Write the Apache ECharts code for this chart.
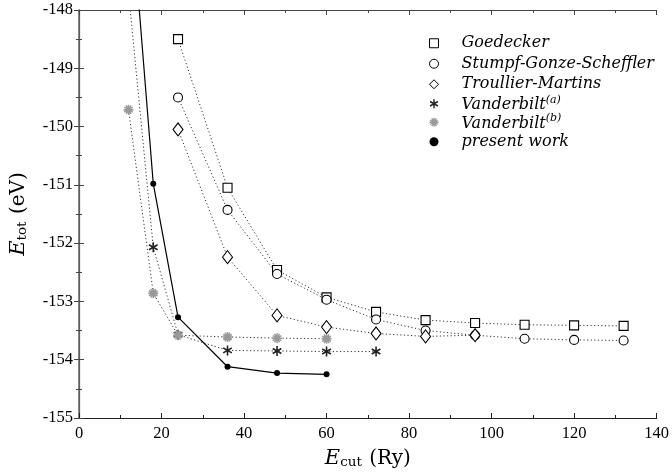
<!DOCTYPE html>
<html>
<head>
<meta charset="utf-8">
<script src="https://cdn.jsdelivr.net/npm/echarts@6/dist/echarts.min.js"></script>
<style>
html, body { margin: 0; padding: 0; background: #fff; }
#chart { width: 672px; height: 474px; }
</style>
</head>
<body>
<div id="chart"></div>
<script>
// cutoff energies (Ry) per data set
const ecutGoedecker = [24, 36, 48, 60, 72, 84, 96, 108, 120, 132];
const ecutSGS = [24, 36, 48, 60, 72, 84, 96, 108, 120, 132];
const ecutTM = [24, 36, 48, 60, 72, 84, 96];
const ecutVandA = [12, 18, 24, 36, 48, 60, 72];
const ecutVandB = [12, 18, 24, 36, 48, 60];
const ecutPresent = [12, 18, 24, 36, 48, 60];

// total energies (eV)
const etotGoedecker = [-148.5, -151.05, -152.46, -152.93, -153.18, -153.32, -153.37, -153.40, -153.41, -153.42];
const etotSGS = [-149.5, -151.43, -152.53, -152.97, -153.31, -153.50, -153.58, -153.64, -153.66, -153.67];
const etotTM = [-150.05, -152.24, -153.24, -153.44, -153.55, -153.60, -153.58];
const etotVandA = [-147.7, -152.07, -153.57, -153.84, -153.85, -153.86, -153.86];
const etotVandB = [-149.71, -152.86, -153.58, -153.61, -153.63, -153.64];
const etotPresent = [-145.7, -150.98, -153.27, -154.12, -154.23, -154.25];

const seriesNames = ['Goedecker', 'Stumpf-Gonze-Scheffler', 'Troullier-Martins', 'Vanderbilt(a)', 'Vanderbilt(b)', 'present work'];

const tickFont = 'Liberation Serif';
const textFont = 'DejaVu Serif';

// asterisk made of n thin bars
function starPath(n, w) {
  let p = '';
  for (let k = 0; k < n; k++) {
    const a = Math.PI * k / n;
    const dx = Math.sin(a) * 10, dy = Math.cos(a) * 10;
    const px = Math.cos(a) * w, py = -Math.sin(a) * w;
    const pts = [
      [10 + dx + px, 10 + dy + py],
      [10 + dx - px, 10 + dy - py],
      [10 - dx - px, 10 - dy - py],
      [10 - dx + px, 10 - dy + py],
    ];
    p += 'M' + pts.map((q) => q[0].toFixed(2) + ',' + q[1].toFixed(2)).join('L') + 'Z';
  }
  return 'path://M0,0M20,20' + p;
}

const starA = starPath(3, 1.6);
const starB = starPath(6, 1.5);

const pairs = (xs, ys) => xs.map((x, i) => [x, ys[i]]);

const dotted = { color: '#333', width: 1, type: [1.2, 2.4] };

const nameStyle = {
  fontFamily: textFont, fontSize: 19, color: '#000',
  rich: {
    e: { fontFamily: textFont, fontStyle: 'italic', fontSize: 21, color: '#000' },
    s: { fontFamily: textFont, fontSize: 13.5, color: '#000', verticalAlign: 'bottom', padding: [7, 1, 0, 0] },
    t: { fontFamily: textFont, fontSize: 20, color: '#000' },
  },
};

const chart = echarts.init(document.getElementById('chart'));
chart.setOption({
  animation: false,
  grid: { left: 77, right: 14, top: 10, bottom: 51 },
  legend: {
    orient: 'vertical',
    left: 424,
    top: 28,
    itemWidth: 9,
    itemHeight: 9,
    itemGap: 0,
    itemStyle: { borderWidth: 1 },
    textStyle: {
      fontFamily: textFont,
      fontStyle: 'italic',
      fontSize: 16,
      lineHeight: 20.5,
      color: '#000',
      padding: [0, 0, 0, 18],
      rich: {
        i: { fontFamily: textFont, fontStyle: 'italic', fontSize: 16, lineHeight: 18.5, color: '#000', verticalAlign: 'bottom' },
        sup: { fontFamily: textFont, fontStyle: 'italic', fontSize: 11, lineHeight: 11, color: '#000', verticalAlign: 'top' },
      },
    },
    formatter: (name) => {
      const m = name.match(/^(.*)(\([ab]\))$/);
      return m ? '{i|' + m[1] + '}{sup|' + m[2] + '}' : name;
    },
    data: [
      { name: seriesNames[0], icon: 'rect' },
      { name: seriesNames[1], icon: 'circle' },
      { name: seriesNames[2], icon: 'diamond' },
      { name: seriesNames[3], icon: starA },
      { name: seriesNames[4], icon: starB },
      { name: seriesNames[5], icon: 'circle', itemHeight: 6 },
    ],
  },
  xAxis: [
    {
      type: 'value',
      min: 0,
      max: 140,
      interval: 20,
      name: '{e|E}{s|cut}{t| (Ry)}',
      nameLocation: 'middle',
      nameGap: 30,
      nameTextStyle: nameStyle,
      axisLine: { lineStyle: { color: '#222', width: 1.2 } },
      axisTick: { inside: true, length: 5, lineStyle: { color: '#222' } },
      minorTick: { show: true, splitNumber: 2, length: 3, lineStyle: { color: '#222' } },
      axisLabel: { fontFamily: tickFont, fontSize: 16.5, color: '#000', margin: 7 },
      splitLine: { show: false },
    },
    {
      type: 'value',
      position: 'top',
      min: 0,
      max: 140,
      interval: 20,
      axisLine: { show: true, lineStyle: { color: '#444', width: 1.2 } },
      axisTick: { show: true, inside: true, length: 5, lineStyle: { color: '#444' } },
      minorTick: { show: true, splitNumber: 2, length: 3, lineStyle: { color: '#444' } },
      axisLabel: { show: false },
      splitLine: { show: false },
    },
  ],
  yAxis: [
    {
      type: 'value',
      min: -155,
      max: -148,
      interval: 1,
      name: '{e|E}{s|tot}{t| (eV)}',
      nameLocation: 'middle',
      nameRotate: 90,
      nameGap: 50,
      nameTextStyle: nameStyle,
      axisLine: { show: true, lineStyle: { color: '#444', width: 1.2 } },
      axisTick: { show: true, inside: true, length: 5, lineStyle: { color: '#444' } },
      minorTick: { show: true, splitNumber: 2, length: 3, lineStyle: { color: '#444' } },
      axisLabel: { fontFamily: tickFont, fontSize: 16.5, color: '#000', margin: 6 },
      splitLine: { show: false },
    },
    {
      type: 'value',
      position: 'right',
      min: -155,
      max: -148,
      interval: 1,
      axisLine: { show: true, lineStyle: { color: '#666', width: 1.5 } },
      axisTick: { show: true, inside: true, length: 5, lineStyle: { color: '#444' } },
      minorTick: { show: true, splitNumber: 2, length: 3, lineStyle: { color: '#444' } },
      axisLabel: { show: false },
      splitLine: { show: false },
    },
  ],
  series: [
    {
      name: seriesNames[0],
      type: 'line',
      data: pairs(ecutGoedecker, etotGoedecker),
      symbol: 'rect',
      symbolSize: 9,
      lineStyle: dotted,
      itemStyle: { color: '#fff', borderColor: '#000', borderWidth: 1.1 },
      z: 3,
    },
    {
      name: seriesNames[1],
      type: 'line',
      data: pairs(ecutSGS, etotSGS),
      symbol: 'circle',
      symbolSize: 9,
      lineStyle: dotted,
      itemStyle: { color: '#fff', borderColor: '#000', borderWidth: 1.1 },
      z: 3,
    },
    {
      name: seriesNames[2],
      type: 'line',
      data: pairs(ecutTM, etotTM),
      symbol: 'diamond',
      symbolSize: [10, 13],
      lineStyle: dotted,
      itemStyle: { color: '#fff', borderColor: '#000', borderWidth: 1.1 },
      z: 3,
    },
    {
      name: seriesNames[3],
      type: 'line',
      data: pairs(ecutVandA, etotVandA),
      symbol: starA,
      symbolSize: 10,
      symbolKeepAspect: true,
      lineStyle: dotted,
      itemStyle: { color: '#222' },
      z: 3,
    },
    {
      name: seriesNames[4],
      type: 'line',
      data: pairs(ecutVandB, etotVandB),
      symbol: starB,
      symbolSize: 10,
      symbolKeepAspect: true,
      lineStyle: dotted,
      itemStyle: { color: '#999' },
      z: 3,
    },
    {
      name: seriesNames[5],
      type: 'line',
      data: pairs(ecutPresent, etotPresent),
      symbol: 'circle',
      symbolSize: 6,
      lineStyle: { color: '#000', width: 1.2, type: 'solid' },
      itemStyle: { color: '#000' },
      z: 4,
    },
  ],
});
</script>
</body>
</html>
